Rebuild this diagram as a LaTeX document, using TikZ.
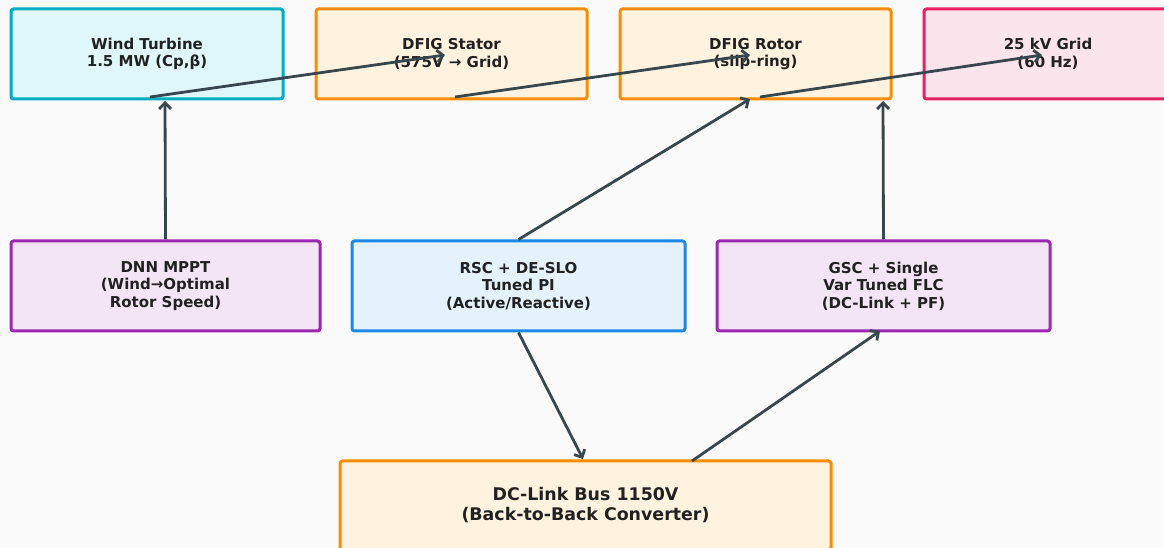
\documentclass[tikz,border=0pt]{standalone}
\usepackage{fontspec}
\setmainfont{DejaVu Sans}
\usetikzlibrary{arrows.meta}
\definecolor{bg}{HTML}{FAFAFA}
\definecolor{arr}{HTML}{37474F}
\definecolor{txt}{HTML}{212121}
\definecolor{cyanB}{HTML}{00ACC1}\definecolor{cyanF}{HTML}{E0F7FA}
\definecolor{orB}{HTML}{FB8C00}\definecolor{orF}{HTML}{FFF3E0}
\definecolor{pkB}{HTML}{E91E63}\definecolor{pkF}{HTML}{FCE4EC}
\definecolor{puB}{HTML}{9C27B0}\definecolor{puF}{HTML}{F3E5F5}
\definecolor{blB}{HTML}{1E88E5}\definecolor{blF}{HTML}{E3F2FD}
\tikzset{
  box/.style={rectangle, rounded corners=2.5pt, line width=3pt, minimum height=90pt,
    inner sep=0pt, align=center, text=txt, font=\fontsize{15}{17.5}\selectfont\bfseries},
  conn/.style={draw=arr, line width=2.8pt, -{Straight Barb[length=6pt,width=12pt]}},
}
\begin{document}
\begin{tikzpicture}[x=1pt,y=1pt]
\useasboundingbox (0,0) rectangle (1164,548);
\fill[bg] (0,0) rectangle (1164,548);
\clip (0,0) rectangle (1164,548);
% top row
\node[box, draw=cyanB, fill=cyanF, minimum width=272pt] (wt) at (147,494) {Wind Turbine\\1.5 MW (Cp,β)};
\node[box, draw=orB, fill=orF, minimum width=271pt] (st) at (451.5,494) {DFIG Stator\\(575V → Grid)};
\node[box, draw=orB, fill=orF, minimum width=271pt] (ro) at (755.5,494) {DFIG Rotor\\(slip-ring)};
\node[box, draw=pkB, fill=pkF, minimum width=248pt] (gr) at (1048,494) {25 kV Grid\\(60 Hz)};
% middle row
\node[box, draw=puB, fill=puF, minimum width=309pt] (dnn) at (165.5,262) {DNN MPPT\\(Wind→Optimal\\Rotor Speed)};
\node[box, draw=blB, fill=blF, minimum width=333pt] (rsc) at (518.5,262) {RSC + DE-SLO\\Tuned PI\\(Active/Reactive)};
\node[box, draw=puB, fill=puF, minimum width=333pt] (gsc) at (883.5,262) {GSC + Single\\Var Tuned FLC\\(DC-Link + PF)};
% bottom
\node[box, draw=orB, fill=orF, minimum width=491pt, minimum height=89pt, font=\fontsize{17.4}{20}\selectfont\bfseries] (dc) at (585.5,42.5) {DC-Link Bus 1150V\\(Back-to-Back Converter)};
% coordinates
\coordinate (wtS) at (150,451);
\coordinate (stT) at (445,493);
\coordinate (stS) at (455,451);
\coordinate (roT) at (750,493);
\coordinate (roS) at (760,451);
\coordinate (grT) at (1042,493);
\coordinate (wtB) at (165,447);
\coordinate (roB) at (750,449);
\coordinate (roB2) at (883,447);
\coordinate (dcT) at (583,89);
\coordinate (dcS) at (692,87);
\coordinate (gscB) at (880,217);
% connectors
\draw[conn] (wtS) -- (stT);
\draw[conn] (stS) -- (roT);
\draw[conn] (roS) -- (grT);
\draw[conn] (dnn.north) -- (wtB);
\draw[conn] (rsc.north) -- (roB);
\draw[conn] (gsc.north) -- (roB2);
\draw[conn] (rsc.south) -- (dcT);
\draw[conn] (dcS) -- (gscB);
\end{tikzpicture}
\end{document}
